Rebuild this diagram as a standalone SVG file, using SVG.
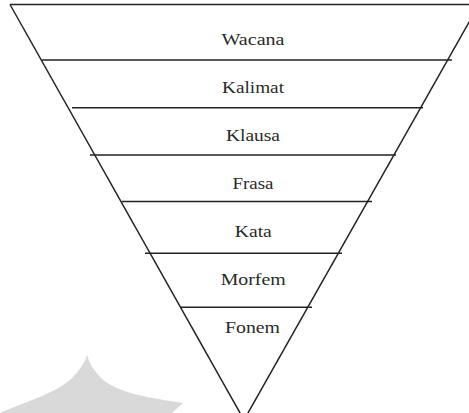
<svg xmlns="http://www.w3.org/2000/svg" width="469" height="413" viewBox="0 0 469 413">
  <style>
    .edge { stroke: #222; stroke-width: 1.5; fill: none; stroke-linecap: butt; }
    .wm { fill: #d9d9d9; stroke: none; }
  </style>
  <rect width="469" height="413" fill="#ffffff"/>
  <path class="wm" d="M 0,413 C 30,400 58,392 72,378 Q 84,366 87,355 Q 90,367 102,379 C 118,393 150,398 183,403 L 172,413 Z"/>
  <g id="outline">
    <line class="edge" x1="10" y1="4.5" x2="469" y2="4.5"/>
    <line class="edge" x1="10" y1="4.5" x2="244" y2="420"/>
    <line class="edge" x1="479" y1="4.5" x2="244" y2="420"/>
  </g>
  <g id="connectors">
    <line class="edge" x1="42" y1="60" x2="452" y2="60"/>
    <line class="edge" x1="72" y1="107.8" x2="423" y2="107.8"/>
    <line class="edge" x1="90" y1="155" x2="396" y2="155"/>
    <line class="edge" x1="122" y1="201.5" x2="372" y2="201.5"/>
    <line class="edge" x1="145" y1="253.3" x2="342" y2="253.3"/>
    <line class="edge" x1="181" y1="307.3" x2="312" y2="307.3"/>
  </g>
  <g font-family="Liberation Serif" font-size="16.5" fill="#2a2a2a" text-anchor="middle">
    <g id="wacana"><text font-family="Liberation Serif" x="253" y="45" textLength="63" lengthAdjust="spacingAndGlyphs">Wacana</text></g>
    <g id="kalimat"><text font-family="Liberation Serif" x="253" y="93.3" textLength="62" lengthAdjust="spacingAndGlyphs">Kalimat</text></g>
    <g id="klausa"><text font-family="Liberation Serif" x="253" y="141" textLength="54" lengthAdjust="spacingAndGlyphs">Klausa</text></g>
    <g id="frasa"><text font-family="Liberation Serif" x="253" y="189.3" textLength="41" lengthAdjust="spacingAndGlyphs">Frasa</text></g>
    <g id="kata"><text font-family="Liberation Serif" x="253.3" y="236.7" textLength="37" lengthAdjust="spacingAndGlyphs">Kata</text></g>
    <g id="morfem"><text font-family="Liberation Serif" x="253.2" y="285" textLength="65" lengthAdjust="spacingAndGlyphs">Morfem</text></g>
    <g id="fonem"><text font-family="Liberation Serif" x="252.5" y="333.3" textLength="55" lengthAdjust="spacingAndGlyphs">Fonem</text></g>
  </g>
</svg>
